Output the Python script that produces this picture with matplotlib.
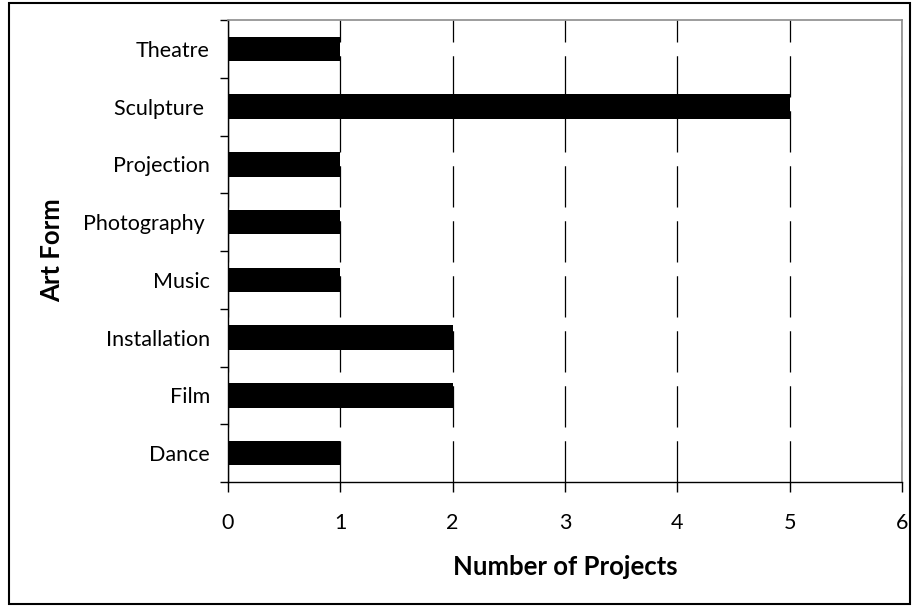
import matplotlib.pyplot as plt
from matplotlib.patches import Rectangle

# data (bottom to top)
art_forms = ['Dance', 'Film', 'Installation', 'Music', 'Photography ',
             'Projection', 'Sculpture ', 'Theatre']
projects = [1, 2, 2, 1, 1, 1, 5, 1]

plt.rcParams['font.family'] = ['Lato', 'DejaVu Sans']

fig = plt.figure(figsize=(9.14, 6.07), dpi=100)
ax = fig.add_axes([228 / 914, 1 - 482 / 607, 674 / 914, 462 / 607])

pos = list(range(len(art_forms)))
ax.barh(pos, projects, height=0.42, color='black', zorder=3)

ax.set_xlim(0, 6)
ax.set_ylim(-0.5, len(art_forms) - 0.5)
ax.set_xticks(range(0, 7))
ax.set_yticks(pos)
ax.set_yticklabels(art_forms)
ax.set_yticks([p - 0.5 for p in range(len(art_forms) + 1)], minor=True)

ax.tick_params(axis='y', which='major', length=0, pad=13, labelsize=15.5)
ax.tick_params(axis='y', which='minor', length=6, width=1, direction='out')
ax.tick_params(axis='x', length=7, width=1, direction='out', pad=15, labelsize=15.5)

ax.xaxis.grid(True, color='black', linewidth=0.9, linestyle=(0, (33, 11)), zorder=1)
ax.set_axisbelow(True)

for s in ['top', 'right']:
    ax.spines[s].set_color('#8c8c8c')
    ax.spines[s].set_linewidth(1.2)
for s in ['left', 'bottom']:
    ax.spines[s].set_color('black')
    ax.spines[s].set_linewidth(1.0)

ax.set_xlabel('Number of Projects', fontsize=18.5, fontweight='bold', labelpad=16)
fig.text(52 / 914, 1 - 250 / 607, 'Art Form', rotation=90, fontsize=18.5,
         fontweight='bold', ha='center', va='center')

# outer chart border
fig.patches.append(Rectangle((9 / 914, 3 / 607), 901 / 914, 601 / 607,
                             transform=fig.transFigure, fill=False,
                             edgecolor='black', linewidth=1.5))

fig.savefig('out.png', dpi=100)
